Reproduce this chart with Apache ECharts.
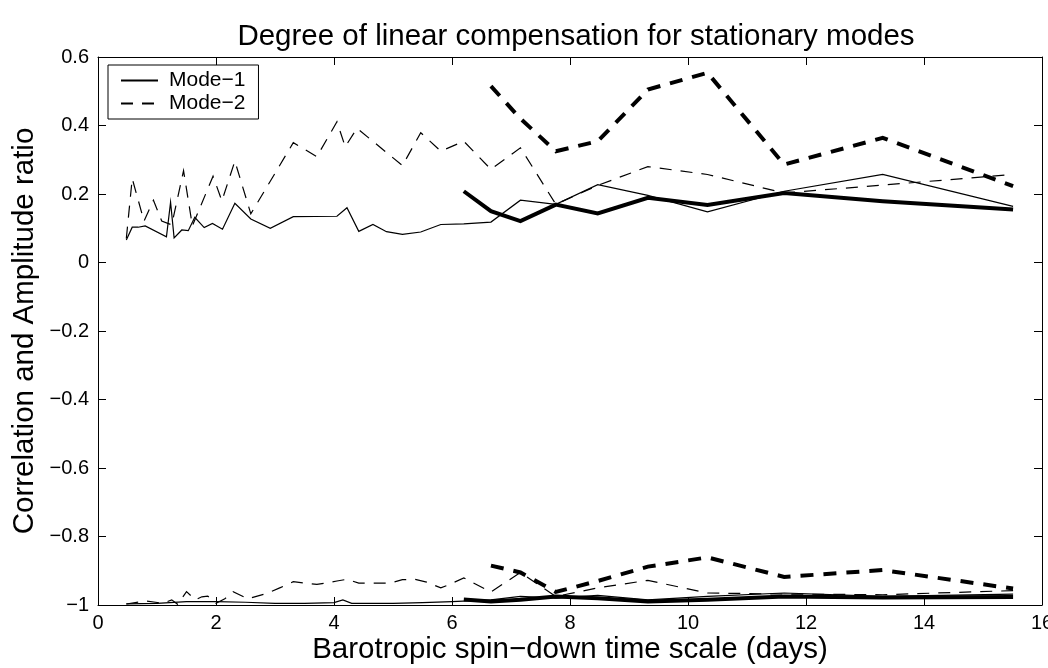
<!DOCTYPE html>
<html>
<head>
<meta charset="utf-8">
<script src="https://cdn.jsdelivr.net/npm/echarts@6/dist/echarts.min.js"></script>
<style>
html,body{margin:0;padding:0;background:#fff;overflow:hidden;}
#chart{position:absolute;left:0;top:0;width:1048px;height:668px;}
</style>
</head>
<body>
<div id="chart"></div>
<script>
// ---- Data ----
// Upper group: amplitude ratio
var m1ThinX = [0.48,0.58,0.68,0.80,1.16,1.23,1.29,1.42,1.53,1.64,1.80,1.94,2.11,2.32,2.59,2.92,3.31,4.05,4.22,4.42,4.66,4.89,5.16,5.47,5.81,6.20,6.66,7.16,7.76,8.47,9.32,10.33,11.63,13.30,15.51];
var m1ThinY = [0.066,0.103,0.103,0.107,0.075,0.176,0.072,0.095,0.093,0.132,0.102,0.114,0.097,0.173,0.127,0.100,0.134,0.135,0.160,0.091,0.111,0.090,0.082,0.089,0.111,0.113,0.118,0.182,0.170,0.227,0.196,0.148,0.208,0.257,0.164];

var m2ThinX = [0.48,0.58,0.78,0.94,1.08,1.25,1.45,1.60,1.95,2.10,2.32,2.59,3.31,3.71,4.05,4.19,4.39,5.16,5.47,5.81,6.20,6.66,7.16,7.76,8.47,9.32,10.33,11.63,13.30,15.51];
var m2ThinY = [0.070,0.245,0.121,0.182,0.121,0.110,0.268,0.107,0.252,0.180,0.296,0.142,0.350,0.309,0.411,0.338,0.392,0.283,0.379,0.325,0.354,0.272,0.335,0.170,0.225,0.280,0.257,0.203,0.226,0.257];

var m1ThickX = [6.20,6.66,7.16,7.76,8.47,9.32,10.33,11.63,13.30,15.51];
var m1ThickY = [0.208,0.150,0.121,0.169,0.143,0.189,0.168,0.203,0.179,0.155];

var m2ThickX = [6.66,7.16,7.76,8.47,9.32,10.33,11.63,13.30,15.51];
var m2ThickY = [0.515,0.420,0.325,0.354,0.505,0.554,0.286,0.364,0.223];

// Lower group: correlation
var m1ThinCorrX = [0.48,1.00,1.50,2.00,2.50,3.00,3.50,4.00,4.15,4.30,5.00,5.50,6.00,6.66,7.16,7.76,8.47,9.32,10.33,11.63,13.30,15.51];
var m1ThinCorrY = [-0.997,-0.995,-0.990,-0.990,-0.992,-0.995,-0.995,-0.993,-0.985,-0.995,-0.995,-0.993,-0.990,-0.985,-0.975,-0.980,-0.972,-0.985,-0.975,-0.965,-0.975,-0.968];

var m2ThinCorrX = [0.48,0.80,1.10,1.25,1.35,1.50,1.65,1.76,1.86,2.00,2.15,2.29,2.54,2.88,3.08,3.31,3.71,4.05,4.22,4.42,4.66,4.95,5.16,5.37,5.57,5.81,5.93,6.20,6.66,7.16,7.76,8.47,9.32,10.33,11.63,13.30,15.51];
var m2ThinCorrY = [-0.997,-0.988,-0.995,-0.985,-0.998,-0.961,-0.985,-0.976,-0.974,-0.995,-0.982,-0.961,-0.982,-0.965,-0.950,-0.932,-0.940,-0.930,-0.925,-0.936,-0.936,-0.936,-0.926,-0.925,-0.933,-0.950,-0.942,-0.921,-0.962,-0.905,-0.975,-0.950,-0.928,-0.965,-0.968,-0.970,-0.958];

var m1ThickCorrX = [6.20,6.66,7.16,7.76,8.47,9.32,10.33,11.63,13.30,15.51];
var m1ThickCorrY = [-0.984,-0.990,-0.985,-0.975,-0.980,-0.990,-0.985,-0.975,-0.978,-0.977];

var m2ThickCorrX = [6.66,7.16,7.76,8.47,9.32,10.33,11.63,13.30,15.51];
var m2ThickCorrY = [-0.885,-0.905,-0.962,-0.930,-0.888,-0.861,-0.918,-0.898,-0.952];

var xTicks = [0,2,4,6,8,10,12,14,16];
var yTicks = [-1,-0.8,-0.6,-0.4,-0.2,0,0.2,0.4,0.6];

var titleText = 'Degree of linear compensation for stationary modes';
var xName = 'Barotropic spin\u2212down time scale (days)';
var yName = 'Correlation and Amplitude ratio';
var legendNames = ['Mode\u22121','Mode\u22122'];

function zip(xs, ys){ var o=[]; for(var i=0;i<xs.length;i++){o.push([xs[i],ys[i]]);} return o; }

var FONT = '"Liberation Sans", Arial, Helvetica, sans-serif';
var thinDash = [12,9];
var thickDash = [13,10];

function mk(name, xs, ys, width, dash, z){
  return {
    name: name, type:'line', data: zip(xs,ys), symbol:'none', showSymbol:false,
    animation:false, z: z,
    lineStyle:{color:'#000', width: width, type: dash ? dash : 'solid', cap:'butt', join:'miter'},
    itemStyle:{color:'#000'}
  };
}

var chart = echarts.init(document.getElementById('chart'), null, {renderer:'canvas'});

function fmt(v){
  var s = (Math.round(v*10)/10).toString();
  return s.replace('-', '\u2212');
}

var axisCommon = {
  axisLine:{show:true, onZero:false, lineStyle:{color:'#000', width:1}},
  axisTick:{show:true, inside:true, length:8, lineStyle:{color:'#000', width:1}},
  splitLine:{show:false}
};

var option = {
  backgroundColor:'#fff',
  animation:false,
  title:{
    text: titleText,
    left: 571, top: 17, textAlign:'center',
    textStyle:{fontFamily:FONT, fontSize:29.5, fontWeight:'normal', color:'#000'}
  },
  legend:{
    data: legendNames,
    orient:'vertical',
    left:108, top:65,
    backgroundColor:'#fff',
    borderColor:'#000', borderWidth:1, borderRadius:0,
    padding:[5,13,5,12],
    itemWidth:37, itemHeight:14, itemGap:2,
    selectedMode:false,
    itemStyle:{opacity:0},
    textStyle:{fontFamily:FONT, fontSize:21, lineHeight:21, color:'#000', padding:[0,0,0,6]}
  },
  grid:{left:98, right:6, top:57, bottom:63, containLabel:false, outerBoundsMode:'none'},
  xAxis:[
    Object.assign({
      type:'value', min:xTicks[0], max:xTicks[xTicks.length-1], interval:2, position:'bottom',
      name: xName, nameLocation:'middle', nameGap:30, nameMoveOverlap:false,
      nameTextStyle:{fontFamily:FONT, fontSize:29.5, color:'#000', verticalAlign:'top'},
      axisLabel:{fontFamily:FONT, fontSize:20, color:'#000', margin:8, formatter:fmt, showMaxLabel:true, showMinLabel:true, hideOverlap:false}
    }, axisCommon),
    Object.assign({
      type:'value', min:xTicks[0], max:xTicks[xTicks.length-1], interval:2, position:'top',
      axisLabel:{show:false}
    }, axisCommon)
  ],
  yAxis:[
    Object.assign({
      type:'value', min:yTicks[0], max:yTicks[yTicks.length-1], interval:0.2, position:'left',
      name: yName, nameLocation:'middle', nameGap:58, nameMoveOverlap:false,
      nameTextStyle:{fontFamily:FONT, fontSize:29.5, color:'#000'},
      axisLabel:{fontFamily:FONT, fontSize:20, color:'#000', margin:9, formatter:fmt, hideOverlap:false}
    }, axisCommon),
    Object.assign({
      type:'value', min:yTicks[0], max:yTicks[yTicks.length-1], interval:0.2, position:'right',
      axisLabel:{show:false}
    }, axisCommon)
  ],
  series:[
    mk(legendNames[0], m1ThinX, m1ThinY, 1.2, null, 3),
    mk(legendNames[1], m2ThinX, m2ThinY, 1.2, thinDash, 3),
    mk('Mode-1 (thick)', m1ThickX, m1ThickY, 4, null, 4),
    mk('Mode-2 (thick)', m2ThickX, m2ThickY, 4, thickDash, 4),
    mk(legendNames[0], m1ThinCorrX, m1ThinCorrY, 1.2, null, 3),
    mk(legendNames[1], m2ThinCorrX, m2ThinCorrY, 1.2, thinDash, 3),
    mk('Mode-1 (thick)', m1ThickCorrX, m1ThickCorrY, 4, null, 4),
    mk('Mode-2 (thick)', m2ThickCorrX, m2ThickCorrY, 4, thickDash, 4)
  ]
};
chart.setOption(option);
</script>
</body>
</html>
